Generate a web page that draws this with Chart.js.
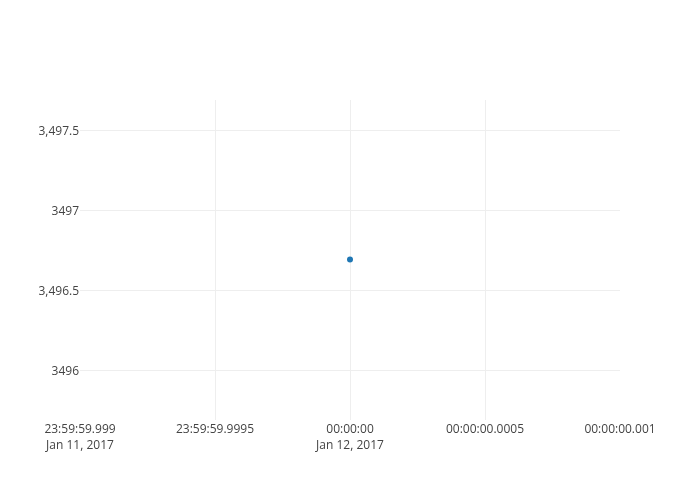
<!DOCTYPE html>
<html>
<head>
<meta charset="utf-8">
<script src="https://cdn.jsdelivr.net/npm/chart.js@4/dist/chart.umd.min.js"></script>
<style>
html,body{margin:0;padding:0;background:#fff;}
#wrap{width:700px;height:500px;position:relative;}
</style>
</head>
<body>
<div id="wrap"><canvas id="c" width="700" height="500"></canvas></div>
<script>
// x values: milliseconds relative to Jan 12, 2017 00:00:00
const xOffsetsMs = [0];
const yValues = [3496.69];
const xTickValues = [-1, -0.5, 0, 0.5, 1];
const xTickLabels = [
  ["23:59:59.999", "Jan 11, 2017"],
  ["23:59:59.9995"],
  ["00:00:00", "Jan 12, 2017"],
  ["00:00:00.0005"],
  ["00:00:00.001"]
];
const yTickValues = [3496, 3496.5, 3497, 3497.5];
const yTickLabels = ["3496", "3,496.5", "3497", "3,497.5"];

const points = xOffsetsMs.map((x, i) => ({x: x, y: yValues[i]}));

new Chart(document.getElementById('c'), {
  type: 'scatter',
  data: {
    datasets: [{
      data: points,
      backgroundColor: '#1f77b4',
      borderColor: '#1f77b4',
      pointRadius: 3,
      pointHoverRadius: 3,
      borderWidth: 0
    }]
  },
  options: {
    responsive: false,
    animation: false,
    layout: {padding: {top: 100, right: 80, left: 0, bottom: 0}},
    plugins: {legend: {display: false}, tooltip: {enabled: false}},
    scales: {
      x: {
        type: 'linear',
        min: -1, max: 1,
        afterBuildTicks: (s) => { s.ticks = xTickValues.map(v => ({value: v})); },
        afterFit: (s) => { s.height = 80; },
        border: {display: false},
        grid: {
          color: (ctx) => (ctx.tick && (ctx.tick.value === -1 || ctx.tick.value === 1)) ? 'rgba(0,0,0,0)' : '#eeeeee',
          lineWidth: 1,
          drawTicks: false
        },
        ticks: {
          autoSkip: false,
          maxRotation: 0,
          padding: 1,
          color: '#444444',
          font: {family: '"Open Sans", sans-serif', size: 12, lineHeight: 1.35},
          callback: (v) => {
            const i = xTickValues.indexOf(v);
            return i >= 0 ? xTickLabels[i] : '';
          }
        }
      },
      y: {
        type: 'linear',
        min: 3495.6875, max: 3497.6875,
        afterBuildTicks: (s) => { s.ticks = yTickValues.map(v => ({value: v})); },
        afterFit: (s) => { s.width = 80; },
        border: {display: false},
        grid: {color: '#eeeeee', lineWidth: 1, drawTicks: false},
        ticks: {
          padding: 1,
          labelOffset: 2,
          color: '#444444',
          font: {family: '"Open Sans", sans-serif', size: 12},
          callback: (v) => {
            const i = yTickValues.indexOf(v);
            return i >= 0 ? yTickLabels[i] : '';
          }
        }
      }
    }
  }
});
</script>
</body>
</html>
